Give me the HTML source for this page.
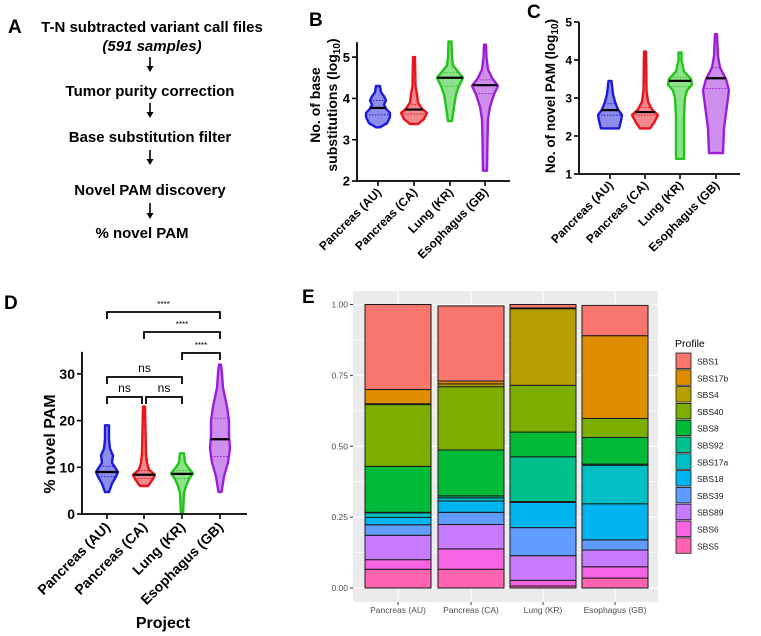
<!DOCTYPE html>
<html><head><meta charset="utf-8"><style>
html,body{margin:0;padding:0;background:#fff;}
svg{display:block;font-family:"Liberation Sans",Arial,sans-serif;}
.b{font-weight:bold;}
</style></head><body>
<svg id="fig" width="761" height="636" viewBox="0 0 761 636" xmlns="http://www.w3.org/2000/svg">
<g class="b" font-size="15" text-anchor="middle">
<text x="8" y="33" font-size="19" text-anchor="start">A</text>
<text x="152" y="32">T-N subtracted variant call files</text>
<text x="152" y="51" font-style="italic">(591 samples)</text>
<text x="150" y="96">Tumor purity correction</text>
<text x="150" y="142">Base substitution filter</text>
<text x="150" y="195">Novel PAM discovery</text>
<text x="142" y="238">% novel PAM</text>
</g>
<g id="arrows"></g>
<g id="pB"></g>
<g id="pC"></g>
<g id="pD"></g>
<g id="pE"></g>
</svg>
<script>
const NS="http://www.w3.org/2000/svg";
const categories=["Pancreas (AU)","Pancreas (CA)","Lung (KR)","Esophagus (GB)"];
const colors=["#1c1cd8","#e8141c","#22c41c","#9c1fd8"];
const bProfiles=[
[[3.3,2],[3.4,9],[3.55,12],[3.65,12],[3.75,8],[3.85,6],[3.95,8],[4.05,6],[4.15,3],[4.3,2]],
[[3.38,4],[3.5,10],[3.65,13],[3.75,8],[3.9,4],[4.1,3],[4.3,1.5],[5.0,1]],
[[3.45,2],[3.8,4],[4.1,6],[4.3,9],[4.5,13],[4.65,8],[4.8,3],[5.0,2],[5.38,1.5]],
[[2.25,2],[3.0,2.5],[3.5,3],[3.8,5],[4.1,9],[4.3,13],[4.5,7],[4.7,3],[5.0,1.5],[5.3,1]]];
const bMedians=[3.77,3.73,4.5,4.32];
const bQuartiles=[[3.6,3.95],[3.62,3.85],[4.3,4.62],[4.12,4.45]];
const bTicks=[2,3,4,5];
const cProfiles=[
[[2.2,9],[2.4,11],[2.55,12],[2.7,8],[2.9,5],[3.1,3],[3.45,1.5]],
[[2.2,5],[2.35,9],[2.55,13],[2.7,7],[2.9,3],[3.2,1.5],[4.22,1]],
[[1.4,4],[2.5,4],[3.0,5],[3.2,7],[3.35,12],[3.5,11],[3.7,4],[4.0,1.5],[4.2,1.5]],
[[1.55,7],[2.2,8],[2.8,11],[3.2,13],[3.5,10],[3.8,4],[4.1,2],[4.68,1]]];
const cMedians=[2.68,2.63,3.45,3.52];
const cQuartiles=[[2.55,2.85],[2.55,2.75],[3.3,3.55],[3.25,3.8]];
const cTicks=[1,2,3,4,5];
const dProfiles=[
[[4.7,2],[6.5,5],[8,9],[9,11],[10,8],[11,5],[12.5,6],[14,3],[16,2],[19,2]],
[[6,4],[7.5,9],[8.4,11],[9.5,5],[11,3],[13,2],[23,1]],
[[0,1],[4.5,2],[6,4],[7.5,7],[8.7,11],[10,6],[11,3],[13,2]],
[[4.7,1.5],[8,4],[11,8],[14,10],[17,9],[20,9],[23,7],[27,3],[30,2],[32,1]]];
const dMedians=[9,8.4,8.6,16];
const dQuartiles=[[8,10.2],[7.6,9.3],[7.6,9.3],[12.3,20.5]];
const dTicks=[0,10,20,30];
const sigPairs=[[0,3,"****"],[1,3,"****"],[2,3,"****"],[0,2,"ns"],[0,1,"ns"],[1,2,"ns"]];
const profiles=["SBS1","SBS17b","SBS4","SBS40","SBS8","SBS92","SBS17a","SBS18","SBS39","SBS89","SBS6","SBS5"];
const profColors=["#F8766D","#DE8C00","#B79F00","#7CAE00","#00BA38","#00C08B","#00BFC4","#00B4F0","#619CFF","#C77CFF","#F564E3","#FF64B0"];
const fracAU=[0.30,0.05,0.003,0.218,0.162,0.002,0.016,0.026,0.037,0.086,0.034,0.066];
const fracCA=[0.265,0.01,0.01,0.223,0.162,0.007,0.011,0.04,0.043,0.086,0.072,0.066];
const fracKR=[0.012,0.003,0.27,0.165,0.087,0.158,0.003,0.089,0.099,0.087,0.02,0.007];
const fracGB=[0.107,0.292,0.0,0.067,0.094,0.004,0.136,0.127,0.036,0.059,0.04,0.035];
const eFracs=[fracAU,fracCA,fracKR,fracGB];
const eTicks=[0,0.25,0.5,0.75,1.0];
const eTickLabels=["0.00","0.25","0.50","0.75","1.00"];

function mk(tag,attrs,parent,txt){const e=document.createElementNS(NS,tag);for(const k in attrs)e.setAttribute(k,attrs[k]);if(txt!==undefined)e.textContent=txt;parent.appendChild(e);return e;}

(function(){const g=document.getElementById('arrows');
[[150,57,71],[150,103,117],[150,150,164],[150,203,218]].forEach(a=>{
const l=mk('line',{x1:a[0],y1:a[1],x2:a[0],y2:a[2]-3,stroke:'#000','stroke-width':1.6},g);


const p=mk('polygon',{points:`${a[0]-3.5},${a[2]-5} ${a[0]+3.5},${a[2]-5} ${a[0]},${a[2]+1}`,fill:'#000'},g);

});})();

function widthAt(pr,m){let w=0;for(let k=0;k<pr.length-1;k++){if(m>=pr[k][0]&&m<=pr[k+1][0]){const t=(m-pr[k][0])/(pr[k+1][0]-pr[k][0]);w=pr[k][1]+t*(pr[k+1][1]-pr[k][1]);}}return w;}

function violinPanel(g,cfg){
 const {x0,x1,yAt,centers,ticks,profs,meds,quarts,fs,lblFs,lblDy}=cfg;
 const y=v=>yAt(v);
 profs.forEach((pr,i)=>{
  const cx=centers[i];let pts=[];
  pr.forEach(p=>pts.push([cx+p[1],y(p[0])]));
  for(let k=pr.length-1;k>=0;k--)pts.push([cx-pr[k][1],y(pr[k][0])]);
  const path=mk('polygon',{points:pts.map(p=>p[0].toFixed(1)+','+p[1].toFixed(1)).join(' '),fill:colors[i],'fill-opacity':0.5,stroke:colors[i],'stroke-width':2.4,'stroke-linejoin':'round'},g);
  
  
  quarts[i].forEach(q=>{const w=widthAt(pr,q);
   const ql=mk('line',{x1:cx-w,x2:cx+w,y1:y(q),y2:y(q),stroke:colors[i],'stroke-width':1,'stroke-dasharray':'1.5,1.5'},g);
   
   });
  const m=meds[i],w=widthAt(pr,m);
  const ml=mk('line',{x1:cx-w,x2:cx+w,y1:y(m),y2:y(m),stroke:'#000','stroke-width':2.2},g);
  
  
 });
 const ax=mk('line',{x1:x0,x2:x0,y1:y(ticks[0])+1,y2:y(ticks[ticks.length-1])-(cfg.extra||0),stroke:'#000','stroke-width':1.8},g);
 
 
 const xa=mk('line',{x1:x0-1,x2:x1,y1:y(ticks[0]),y2:y(ticks[0]),stroke:'#000','stroke-width':1.8},g);
 
 
 ticks.forEach(t=>{const l=mk('line',{x1:x0-5,x2:x0,y1:y(t),y2:y(t),stroke:'#000','stroke-width':1.6},g);
  
  
  const tx=mk('text',{x:x0-7,y:y(t)+fs*0.36,'text-anchor':'end','font-size':fs,'font-weight':'bold'},g,String(t));
  
  });
 centers.forEach((cx,i)=>{const l=mk('line',{x1:cx,x2:cx,y1:y(ticks[0]),y2:y(ticks[0])+5,stroke:'#000','stroke-width':1.6},g);
  
  
  const by=y(ticks[0])+lblDy;
  const tx=mk('text',{x:cx+4,y:by,'text-anchor':'end','font-size':lblFs,'font-weight':'bold',transform:`rotate(-45 ${cx+4} ${by})`},g,categories[i]);
  
  });
}

(function(){const g=document.getElementById('pB');
 const t=mk('text',{x:309,y:26,'font-size':19,'font-weight':'bold'},g,'B');
 
 
 violinPanel(g,{x0:357,x1:510,yAt:v=>181-(v-2)*41.3,centers:[378,414,450,485],ticks:bTicks,profs:bProfiles,meds:bMedians,quarts:bQuartiles,fs:13,lblFs:12,lblDy:12,extra:15});
 const tt=mk('text',{transform:'translate(320,105) rotate(-90)','text-anchor':'middle','font-size':14,'font-weight':'bold'},g);
 
 
 mk('tspan',{x:0,y:0},tt,'No. of base');
 mk('tspan',{x:0,y:17},tt,'substitutions (log');mk('tspan',{'font-size':10,dy:3},tt,'10');mk('tspan',{dy:-3},tt,')');
})();
(function(){const g=document.getElementById('pC');
 const t=mk('text',{x:527,y:18,'font-size':19,'font-weight':'bold'},g,'C');
 
 
 violinPanel(g,{x0:579,x1:740,yAt:v=>174-(v-1)*38,centers:[610,645,680,716],ticks:cTicks,profs:cProfiles,meds:cMedians,quarts:cQuartiles,fs:12,lblFs:12,lblDy:12});
 const tt=mk('text',{transform:'translate(555,96) rotate(-90)','text-anchor':'middle','font-size':13.5,'font-weight':'bold'},g,'No. of novel PAM (log');
 
 
 mk('tspan',{'font-size':10,dy:3},tt,'10');mk('tspan',{dy:-3},tt,')');
})();
(function(){const g=document.getElementById('pD');
 const t=mk('text',{x:4,y:309,'font-size':19,'font-weight':'bold'},g,'D');
 
 
 const centers=[107,144,182,220];
 violinPanel(g,{x0:82,x1:247,yAt:v=>514-v*4.67,centers:centers,ticks:dTicks,profs:dProfiles,meds:dMedians,quarts:dQuartiles,fs:14,lblFs:14,lblDy:14,extra:22});
 const tt=mk('text',{transform:'translate(55,444) rotate(-90)','text-anchor':'middle','font-size':16,'font-weight':'bold'},g,'% novel PAM');
 
 
 const xt=mk('text',{x:163,y:628,'text-anchor':'middle','font-size':16,'font-weight':'bold'},g,'Project');
 
 
 const levels=[312,332,353,377,397,397];
 sigPairs.forEach((s,k)=>{const xa=centers[s[0]]+(s[0]===1&&s[1]===2?2:0),xb=centers[s[1]]-(s[0]===0&&s[1]===1?2:0),yy=levels[k];
  const p=mk('polyline',{points:`${xa},${yy+7} ${xa},${yy} ${xb},${yy} ${xb},${yy+7}`,fill:'none',stroke:'#000','stroke-width':1.8},g);
  
  
  const tx=mk('text',{x:(xa+xb)/2,y:yy-5,'text-anchor':'middle','font-size':s[2]==='ns'?12:8},g,s[2]);
  
  });
})();
(function(){const g=document.getElementById('pE');
 const t=mk('text',{x:302,y:303,'font-size':19,'font-weight':'bold'},g,'E');
 
 
 const px0=353,px1=658,py0=291,py1=602;const y=v=>588-v*283.5;
 const centers=[398,471,543,615],bw=66;
 const bg=mk('rect',{x:px0,y:py0,width:px1-px0,height:py1-py0,fill:'#EBEBEB'},g);
 
 
 [0.125,0.375,0.625,0.875].forEach(v=>{const l=mk('line',{x1:px0,x2:px1,y1:y(v),y2:y(v),stroke:'#fff','stroke-width':0.6},g);
  
  });
 eTicks.forEach(v=>{const l=mk('line',{x1:px0,x2:px1,y1:y(v),y2:y(v),stroke:'#fff','stroke-width':1.2},g);
  
  });
 centers.forEach(cx=>{const l=mk('line',{x1:cx,x2:cx,y1:py0,y2:py1,stroke:'#fff','stroke-width':1.2},g);
  
  });
 eFracs.forEach((fr,i)=>{let cum=0;for(let k=profiles.length-1;k>=0;k--){const v=fr[k];
  const r=mk('rect',{x:centers[i]-bw/2,y:y(cum+v),width:bw,height:Math.max(0,y(cum)-y(cum+v)),fill:profColors[k],stroke:'#1a1a1a','stroke-width':1},g);
  
  cum+=v;}});
 eTicks.forEach((v,i)=>{const l=mk('line',{x1:px0-3,x2:px0,y1:y(v),y2:y(v),stroke:'#333','stroke-width':1},g);
  
  
  const tx=mk('text',{x:px0-5,y:y(v)+3,'text-anchor':'end','font-size':8.5,fill:'#4d4d4d'},g,eTickLabels[i]);
  
  });
 centers.forEach((cx,i)=>{const l=mk('line',{x1:cx,x2:cx,y1:py1,y2:py1+3,stroke:'#333','stroke-width':1},g);
  
  
  const tx=mk('text',{x:cx,y:613,'text-anchor':'middle','font-size':8.5,fill:'#4d4d4d'},g,categories[i]);
  
  });
 const lt=mk('text',{x:675,y:347,'font-size':10.5},g,'Profile');
 
 
 profiles.forEach((p,k)=>{const yy=353+k*16.8;
  const r=mk('rect',{x:676,y:yy,width:15,height:15.5,fill:profColors[k],stroke:'#1a1a1a','stroke-width':0.8},g);
  
  
  const tx=mk('text',{x:697,y:yy+11.5,'font-size':8.5,fill:'#1a1a1a'},g,p);
  
  });
})();
</script>
</body></html>
